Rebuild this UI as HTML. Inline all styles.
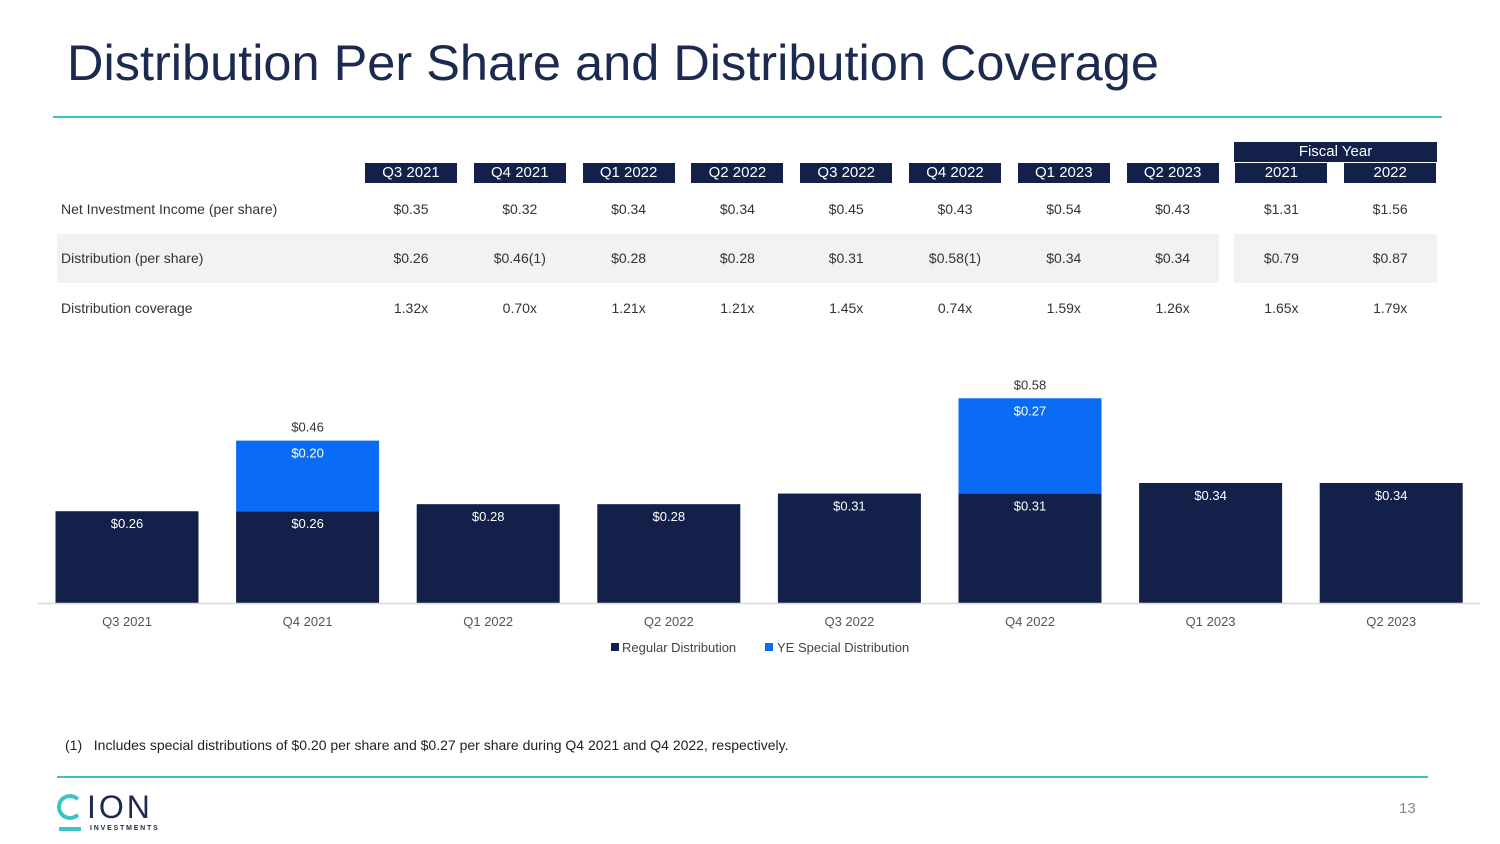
<!DOCTYPE html>
<html><head><meta charset="utf-8"><style>
body{margin:0;width:1500px;height:844px;background:#fff;position:relative;overflow:hidden;font-family:"Liberation Sans",sans-serif;color:#222}
.a{position:absolute}
.hd{position:absolute;background:#13214a;color:#fff;font-size:15px;text-align:center;height:20px;line-height:20px;width:92px}
.c{position:absolute;font-size:14px;color:#333;text-align:center;width:100px}
.lab{position:absolute;left:61px;font-size:14px;color:#333}
</style></head><body>
<div class="a" style="left:67px;top:33px;font-size:50.5px;color:#1b2a4e">Distribution Per Share and Distribution Coverage</div>
<div class="a" style="left:53px;top:116px;width:1389px;height:2px;background:#3cc3c3"></div>

<div class="a" style="left:57px;top:234px;width:1162px;height:49px;background:#f2f2f2"></div>
<div class="a" style="left:1234px;top:234px;width:203px;height:49px;background:#f2f2f2"></div>
<div class="a" style="left:1234px;top:142px;width:203px;height:20px;background:#13214a;color:#fff;font-size:15px;text-align:center;line-height:20px">Fiscal Year</div>
<div id="table"></div>
<div class="lab" style="top:201px">Net Investment Income (per share)</div>
<div class="lab" style="top:250px">Distribution (per share)</div>
<div class="lab" style="top:300px">Distribution coverage</div>

<svg class="a" style="left:0;top:0" width="1500" height="844" id="chart"></svg>

<div class="a" style="left:65px;top:737px;font-size:14px;color:#222">(1)&nbsp;&nbsp;&nbsp;Includes special distributions of $0.20 per share and $0.27 per share during Q4 2021 and Q4 2022, respectively.</div>
<div class="a" style="left:57px;top:776px;width:1371px;height:2px;background:#3cc3c3"></div>
<div class="a" style="left:57px;top:790px;width:110px;height:45px">
  <div class="a" style="left:0;top:4px;width:18px;height:18px;border:4px solid #3cc3c3;border-right-color:transparent;border-radius:50%"></div>
  <div class="a" style="left:30px;top:0;font-size:32px;color:#1b2a4e;letter-spacing:3px;line-height:34px">ION</div>
  <div class="a" style="left:2px;top:37px;width:22px;height:4px;background:#3cc3c3"></div>
  <div class="a" style="left:33px;top:35px;font-size:7px;font-weight:bold;letter-spacing:1.8px;color:#1b2a4e">INVESTMENTS</div>
</div>
<div class="a" style="left:1399px;top:800px;font-size:15px;color:#888">13</div>

<script>
const headers=["Q3 2021","Q4 2021","Q1 2022","Q2 2022","Q3 2022","Q4 2022","Q1 2023","Q2 2023","2021","2022"];
const niiRow=["$0.35","$0.32","$0.34","$0.34","$0.45","$0.43","$0.54","$0.43","$1.31","$1.56"];
const distRow=["$0.26","$0.46(1)","$0.28","$0.28","$0.31","$0.58(1)","$0.34","$0.34","$0.79","$0.87"];
const covRow=["1.32x","0.70x","1.21x","1.21x","1.45x","0.74x","1.59x","1.26x","1.65x","1.79x"];
const categories=["Q3 2021","Q4 2021","Q1 2022","Q2 2022","Q3 2022","Q4 2022","Q1 2023","Q2 2023"];
const regular=[0.26,0.26,0.28,0.28,0.31,0.31,0.34,0.34];
const special=[0,0.20,0,0,0,0.27,0,0];
const totals=[null,0.46,null,null,null,0.58,null,null];

const tbl=document.getElementById('table');
const colX=i=>411+i*108.8;
headers.forEach((h,i)=>{
  const d=document.createElement('div');d.className='hd';
  
  
  d.style.left=(colX(i)-46)+'px';d.style.top='163px';d.textContent=h;tbl.appendChild(d);
});
[[niiRow,201],[distRow,250],[covRow,300]].forEach(([row,y])=>{
  row.forEach((v,i)=>{
    const d=document.createElement('div');d.className='c';
    
    
    d.style.left=(colX(i)-50)+'px';d.style.top=y+'px';d.textContent=v;tbl.appendChild(d);
  });
});

const svg=document.getElementById('chart');const NS='http://www.w3.org/2000/svg';
const base=603,scale=353,bw=143;
const xC=i=>127+i*180.6;
const yS=v=>base-v*scale;
function mk(t,a,txt){const e=document.createElementNS(NS,t);for(const k in a)e.setAttribute(k,a[k]);if(txt!=null)e.textContent=txt;svg.appendChild(e);return e;}
categories.forEach((c,i)=>{
  const r=mk('rect',{x:xC(i)-bw/2,y:yS(regular[i]),width:bw,height:regular[i]*scale,fill:'#13214a'});
  
  
  const t=mk('text',{x:xC(i),y:yS(regular[i])+17,'text-anchor':'middle','font-size':13,fill:'#fff'},'$'+regular[i].toFixed(2));
  
  
  if(special[i]>0){
    const top=yS(regular[i]+special[i]);
    const s=mk('rect',{x:xC(i)-bw/2,y:top,width:bw,height:special[i]*scale,fill:'#0a6cf5'});
    
    
    const st=mk('text',{x:xC(i),y:top+17,'text-anchor':'middle','font-size':13,fill:'#fff'},'$'+special[i].toFixed(2));
    
    
  }
  if(totals[i]!=null){
    const tt=mk('text',{x:xC(i),y:yS(totals[i])-9,'text-anchor':'middle','font-size':13,fill:'#333'},'$'+totals[i].toFixed(2));
    
    
  }
  const xl=mk('text',{x:xC(i),y:626,'text-anchor':'middle','font-size':13,fill:'#555'},c);
  
  
});
const ax=mk('line',{x1:38,x2:1480,y1:603.5,y2:603.5,stroke:'#d9d9d9','stroke-width':1.5});


const l1=mk('rect',{x:611,y:643,width:8,height:8,fill:'#13214a'});


const l1t=mk('text',{x:622,y:652,'font-size':13,fill:'#444'},'Regular Distribution');


const l2=mk('rect',{x:765,y:643,width:8,height:8,fill:'#0a6cf5'});


const l2t=mk('text',{x:777,y:652,'font-size':13,fill:'#444'},'YE Special Distribution');


</script>
</body></html>
